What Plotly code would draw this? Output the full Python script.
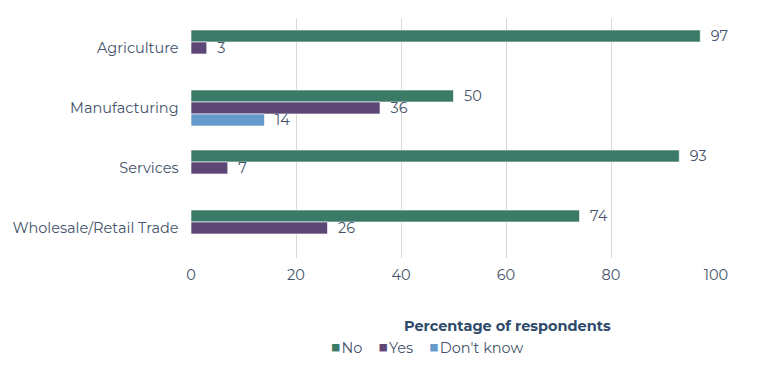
import plotly.graph_objects as go

categories = ["Agriculture", "Manufacturing", "Services", "Wholesale/Retail Trade"]
no_vals = [97, 50, 93, 74]
yes_vals = [3, 36, 7, 26]
dk_vals = [None, 14, None, None]
series_names = ["No", "Yes", "Don't know"]
x_ticks = [0, 20, 40, 60, 80, 100]

colors = ["#3a7a67", "#5d4777", "#6699cc"]
text_col = "#44546a"
font_fam = "Montserrat, 'Open Sans', sans-serif"
fs = 14.5

fig = go.Figure()
for name, vals, col in zip(series_names, [no_vals, yes_vals, dk_vals], colors):
    fig.add_trace(go.Bar(
        y=categories, x=vals, name=name, orientation="h",
        marker=dict(color=col, line=dict(color="rgba(255,255,255,0.6)", width=1)),
        text=[("  " + str(v)) if v is not None else "" for v in vals],
        textposition="outside", cliponaxis=False, constraintext="none",
        textfont=dict(color=text_col, size=fs, family=font_fam),
        showlegend=False,
    ))

legend_txt = "&nbsp;&nbsp;&nbsp;&nbsp;".join(
    f"<span style='color:{c};font-size:19px'>■</span>{n}" for n, c in zip(series_names, colors)
)

fig.update_layout(
    width=751, height=358,
    margin=dict(l=183, r=43, t=10, b=108),
    barmode="group", bargap=0.4, bargroupgap=0,
    plot_bgcolor="white", paper_bgcolor="white",
    font=dict(family=font_fam, color=text_col, size=fs),
    xaxis=dict(range=[0, 100], tickvals=x_ticks, showgrid=True, gridcolor="#d9d9d9",
               gridwidth=1, zeroline=False, showline=False, ticks="", automargin=False,
               ticklabelstandoff=6, tickfont=dict(size=fs, color=text_col)),
    yaxis=dict(autorange="reversed", showgrid=False, showline=False, ticks="",
               automargin=False, ticksuffix="   ", tickfont=dict(size=fs, color=text_col)),
    annotations=[
        dict(text="<b>Percentage of respondents</b>", xref="paper", yref="paper",
             x=0.602, y=-0.283, xanchor="center", yanchor="middle", showarrow=False,
             font=dict(size=fs, color="#2d4a6b", family=font_fam)),
        dict(text=legend_txt, xref="paper", yref="paper",
             x=0.26, y=-0.367, xanchor="left", yanchor="middle", showarrow=False,
             font=dict(size=fs, color=text_col, family=font_fam)),
    ],
)
fig.write_html("out.html")
